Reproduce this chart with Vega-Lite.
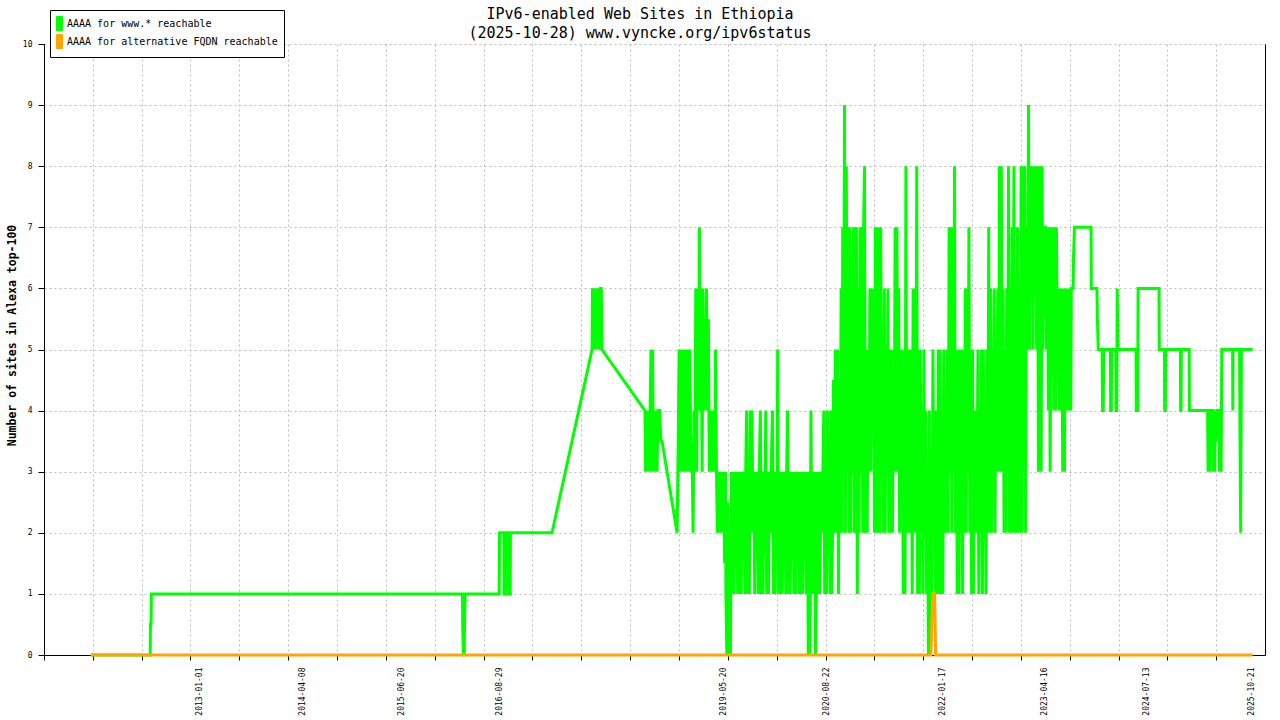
{
  "$schema": "https://vega.github.io/schema/vega-lite/v6.json",
  "width": 1221,
  "height": 611,
  "autosize": {"type": "none"},
  "padding": {"left": 44, "top": 44, "right": 15, "bottom": 65},
  "background": "white",
  "title": {
    "text": ["IPv6-enabled Web Sites in Ethiopia", "(2025-10-28) www.vyncke.org/ipv6status"],
    "font": "DejaVu Sans Mono", "fontSize": 15, "fontWeight": "normal", "lineHeight": 19,
    "color": "black", "anchor": "middle", "frame": "group", "dx": -14.5, "offset": -31
  },
  "datasets": {
    "www": [
      {"d":"2011-09-08","v":0},{"d":"2012-05-29","v":0},{"d":"2012-05-30","v":0.5},{"d":"2012-06-02","v":0.5},{"d":"2012-06-03","v":1},
      {"d":"2016-03-17","v":1},{"d":"2016-03-18","v":0.5},{"d":"2016-03-21","v":0},{"d":"2016-03-25","v":0},{"d":"2016-03-26","v":0.5},{"d":"2016-03-29","v":1},
      {"d":"2016-08-27","v":1},{"d":"2016-08-29","v":2},{"d":"2016-09-17","v":2},{"d":"2016-09-18","v":1},{"d":"2016-09-25","v":1},{"d":"2016-09-26","v":2},
      {"d":"2016-10-08","v":2},{"d":"2016-10-09","v":1},{"d":"2016-10-15","v":1},{"d":"2016-10-16","v":2},{"d":"2017-04-19","v":2},
      {"d":"2017-10-14","v":5},{"d":"2017-10-16","v":6},{"d":"2017-10-19","v":5.5},{"d":"2017-10-22","v":6},{"d":"2017-10-25","v":5},{"d":"2017-10-28","v":6},
      {"d":"2017-11-01","v":5},{"d":"2017-11-04","v":6},{"d":"2017-11-08","v":5.5},{"d":"2017-11-12","v":6},{"d":"2017-11-16","v":5},{"d":"2017-11-20","v":6},
      {"d":"2017-11-24","v":6},{"d":"2017-11-27","v":5},
      {"d":"2018-06-06","v":4},{"d":"2018-06-09","v":3},{"d":"2018-06-13","v":4},{"d":"2018-06-17","v":3},{"d":"2018-06-21","v":4},{"d":"2018-06-25","v":3},
      {"d":"2018-06-29","v":4},{"d":"2018-07-03","v":5},{"d":"2018-07-06","v":3},{"d":"2018-07-10","v":5},{"d":"2018-07-14","v":3},{"d":"2018-07-18","v":4},
      {"d":"2018-07-22","v":3},{"d":"2018-07-26","v":4},{"d":"2018-07-30","v":3},{"d":"2018-08-03","v":4},{"d":"2018-08-10","v":4},{"d":"2018-08-16","v":3.5},
      {"d":"2018-08-21","v":3.5},{"d":"2018-10-27","v":2},
      {"d":"2018-11-01","v":3.5},{"d":"2018-11-05","v":5},{"d":"2018-11-09","v":3},{"d":"2018-11-13","v":5},{"d":"2018-11-17","v":3},{"d":"2018-11-21","v":5},
      {"d":"2018-11-25","v":4},{"d":"2018-11-29","v":3},{"d":"2018-12-03","v":5},{"d":"2018-12-07","v":3},{"d":"2018-12-11","v":5},{"d":"2018-12-15","v":3},
      {"d":"2018-12-19","v":4},{"d":"2018-12-23","v":5},{"d":"2018-12-27","v":3},{"d":"2019-01-01","v":3.5},{"d":"2019-01-06","v":2},{"d":"2019-01-10","v":4},
      {"d":"2019-01-14","v":3},{"d":"2019-01-18","v":6},{"d":"2019-01-22","v":3},{"d":"2019-01-26","v":6},{"d":"2019-01-30","v":4},{"d":"2019-02-03","v":7},
      {"d":"2019-02-07","v":4},{"d":"2019-02-11","v":6},{"d":"2019-02-15","v":3},{"d":"2019-02-19","v":6},{"d":"2019-02-23","v":4},{"d":"2019-02-27","v":5.5},
      {"d":"2019-03-03","v":4},{"d":"2019-03-07","v":6},{"d":"2019-03-11","v":4},{"d":"2019-03-15","v":5.5},{"d":"2019-03-19","v":3},{"d":"2019-03-23","v":4},
      {"d":"2019-03-27","v":3},{"d":"2019-03-31","v":4},{"d":"2019-04-04","v":3},{"d":"2019-04-08","v":4},{"d":"2019-04-12","v":3},{"d":"2019-04-16","v":5},
      {"d":"2019-04-20","v":3},{"d":"2019-04-24","v":2},{"d":"2019-04-28","v":3},{"d":"2019-05-02","v":2},{"d":"2019-05-06","v":3},{"d":"2019-05-10","v":2},
      {"d":"2019-05-14","v":3},{"d":"2019-05-18","v":2},{"d":"2019-05-22","v":3},{"d":"2019-05-26","v":1.5},{"d":"2019-05-30","v":3},{"d":"2019-06-01","v":1},
      {"d":"2019-06-05","v":0},{"d":"2019-06-09","v":2.5},{"d":"2019-06-13","v":0},{"d":"2019-06-17","v":1.5},{"d":"2019-06-21","v":0},{"d":"2019-06-25","v":3},
      {"d":"2019-06-29","v":1},{"d":"2019-07-03","v":3},{"d":"2019-07-07","v":1},{"d":"2019-07-11","v":3},{"d":"2019-07-15","v":2},{"d":"2019-07-19","v":3},
      {"d":"2019-07-23","v":1},{"d":"2019-07-27","v":3},{"d":"2019-07-31","v":1},{"d":"2019-08-04","v":3},{"d":"2019-08-08","v":1},{"d":"2019-08-12","v":3},
      {"d":"2019-08-16","v":2},{"d":"2019-08-20","v":3},{"d":"2019-08-24","v":1},{"d":"2019-08-28","v":3},{"d":"2019-09-01","v":4},{"d":"2019-09-05","v":1},
      {"d":"2019-09-09","v":3},{"d":"2019-09-13","v":1},{"d":"2019-09-17","v":4},{"d":"2019-09-21","v":2},{"d":"2019-09-25","v":4},{"d":"2019-09-29","v":2},
      {"d":"2019-10-03","v":3},{"d":"2019-10-07","v":1},{"d":"2019-10-11","v":3},{"d":"2019-10-15","v":2},{"d":"2019-10-19","v":3},{"d":"2019-10-23","v":1},
      {"d":"2019-10-27","v":3},{"d":"2019-11-01","v":4},{"d":"2019-11-05","v":1},{"d":"2019-11-09","v":3},{"d":"2019-11-13","v":1},{"d":"2019-11-17","v":3},
      {"d":"2019-11-21","v":2},{"d":"2019-11-25","v":4},{"d":"2019-11-29","v":1},{"d":"2019-12-03","v":3},{"d":"2019-12-07","v":1},{"d":"2019-12-11","v":3},
      {"d":"2019-12-15","v":2},{"d":"2019-12-19","v":3},{"d":"2019-12-25","v":4},{"d":"2019-12-29","v":1},{"d":"2020-01-02","v":3},{"d":"2020-01-06","v":1},
      {"d":"2020-01-10","v":3},{"d":"2020-01-14","v":2},{"d":"2020-01-17","v":5},{"d":"2020-01-21","v":1},{"d":"2020-01-25","v":3},{"d":"2020-01-29","v":1},
      {"d":"2020-02-02","v":3},{"d":"2020-02-06","v":1},{"d":"2020-02-10","v":3},{"d":"2020-02-14","v":2},{"d":"2020-02-18","v":3},{"d":"2020-02-22","v":1},
      {"d":"2020-02-26","v":3},{"d":"2020-03-01","v":4},{"d":"2020-03-05","v":1},{"d":"2020-03-09","v":3},{"d":"2020-03-13","v":1},{"d":"2020-03-17","v":3},
      {"d":"2020-03-21","v":2},{"d":"2020-03-25","v":3},{"d":"2020-03-29","v":1},{"d":"2020-04-02","v":3},{"d":"2020-04-06","v":1},{"d":"2020-04-10","v":3},
      {"d":"2020-04-14","v":2},{"d":"2020-04-18","v":3},{"d":"2020-04-22","v":1},{"d":"2020-04-26","v":3},{"d":"2020-04-30","v":1},{"d":"2020-05-04","v":3},
      {"d":"2020-05-08","v":1},{"d":"2020-05-12","v":3},{"d":"2020-05-16","v":2},{"d":"2020-05-20","v":3},{"d":"2020-05-24","v":1},{"d":"2020-05-28","v":3},
      {"d":"2020-06-01","v":0},{"d":"2020-06-05","v":3},{"d":"2020-06-09","v":0},{"d":"2020-06-13","v":4},{"d":"2020-06-17","v":1},{"d":"2020-06-21","v":3},
      {"d":"2020-06-25","v":1},{"d":"2020-06-29","v":3},{"d":"2020-07-03","v":0},{"d":"2020-07-07","v":1},{"d":"2020-07-11","v":3},{"d":"2020-07-15","v":1},
      {"d":"2020-07-19","v":3},{"d":"2020-07-23","v":1},{"d":"2020-07-27","v":3},{"d":"2020-08-01","v":2},{"d":"2020-08-05","v":3},{"d":"2020-08-09","v":4},
      {"d":"2020-08-13","v":1},{"d":"2020-08-17","v":3},{"d":"2020-08-21","v":1},{"d":"2020-08-25","v":4},{"d":"2020-08-29","v":2},{"d":"2020-09-02","v":3},
      {"d":"2020-09-06","v":1},{"d":"2020-09-09","v":4},{"d":"2020-09-13","v":1},{"d":"2020-09-17","v":2},{"d":"2020-09-21","v":4.5},{"d":"2020-09-25","v":2},
      {"d":"2020-09-29","v":5},{"d":"2020-10-05","v":2},{"d":"2020-10-09","v":5},{"d":"2020-10-13","v":1},{"d":"2020-10-17","v":4},{"d":"2020-10-21","v":2},
      {"d":"2020-10-25","v":6},{"d":"2020-10-29","v":2},{"d":"2020-11-01","v":7},{"d":"2020-11-05","v":3},{"d":"2020-11-09","v":9},{"d":"2020-11-13","v":2},
      {"d":"2020-11-17","v":8},{"d":"2020-11-21","v":3},{"d":"2020-11-25","v":7},{"d":"2020-11-29","v":2},{"d":"2020-12-03","v":7},{"d":"2020-12-07","v":2},
      {"d":"2020-12-11","v":6},{"d":"2020-12-15","v":3},{"d":"2020-12-19","v":7},{"d":"2020-12-23","v":2},{"d":"2020-12-27","v":6},{"d":"2021-01-01","v":7},
      {"d":"2021-01-05","v":1},{"d":"2021-01-09","v":6},{"d":"2021-01-13","v":2},{"d":"2021-01-17","v":7},{"d":"2021-01-21","v":3},{"d":"2021-01-25","v":7},
      {"d":"2021-01-29","v":2},{"d":"2021-02-02","v":7},{"d":"2021-02-06","v":8},{"d":"2021-02-10","v":2},{"d":"2021-02-14","v":5},{"d":"2021-02-18","v":2},
      {"d":"2021-02-22","v":5},{"d":"2021-02-26","v":3},{"d":"2021-03-02","v":6},{"d":"2021-03-06","v":3},{"d":"2021-03-10","v":6},{"d":"2021-03-14","v":4},
      {"d":"2021-03-18","v":6},{"d":"2021-03-22","v":2},{"d":"2021-03-26","v":7},{"d":"2021-03-30","v":2},{"d":"2021-04-03","v":7},{"d":"2021-04-07","v":2},
      {"d":"2021-04-11","v":7},{"d":"2021-04-15","v":2},{"d":"2021-04-19","v":7},{"d":"2021-04-23","v":3},{"d":"2021-04-27","v":5},{"d":"2021-05-01","v":2},
      {"d":"2021-05-05","v":6},{"d":"2021-05-09","v":2},{"d":"2021-05-13","v":5},{"d":"2021-05-17","v":3},{"d":"2021-05-21","v":6},{"d":"2021-05-25","v":2},
      {"d":"2021-05-29","v":5},{"d":"2021-06-02","v":2},{"d":"2021-06-06","v":5},{"d":"2021-06-10","v":2},{"d":"2021-06-14","v":4},{"d":"2021-06-18","v":3},
      {"d":"2021-06-22","v":7},{"d":"2021-06-26","v":3},{"d":"2021-06-30","v":7},{"d":"2021-07-04","v":3},{"d":"2021-07-08","v":6},{"d":"2021-07-12","v":2},
      {"d":"2021-07-16","v":5},{"d":"2021-07-20","v":3},{"d":"2021-07-24","v":5},{"d":"2021-07-28","v":1},{"d":"2021-08-01","v":4},{"d":"2021-08-05","v":1},
      {"d":"2021-08-09","v":8},{"d":"2021-08-13","v":2},{"d":"2021-08-17","v":5},{"d":"2021-08-21","v":2},{"d":"2021-08-25","v":5},{"d":"2021-08-29","v":2},
      {"d":"2021-09-02","v":5},{"d":"2021-09-06","v":1},{"d":"2021-09-10","v":6},{"d":"2021-09-14","v":2},{"d":"2021-09-18","v":6},{"d":"2021-09-22","v":2},
      {"d":"2021-09-26","v":8},{"d":"2021-09-30","v":1},{"d":"2021-10-04","v":5},{"d":"2021-10-08","v":1},{"d":"2021-10-12","v":5},{"d":"2021-10-16","v":2},
      {"d":"2021-10-20","v":4},{"d":"2021-10-24","v":1},{"d":"2021-10-28","v":5},{"d":"2021-11-01","v":2},{"d":"2021-11-05","v":4},{"d":"2021-11-09","v":1},
      {"d":"2021-11-13","v":3},{"d":"2021-11-17","v":0},{"d":"2021-11-21","v":4},{"d":"2021-11-25","v":0},{"d":"2021-11-29","v":3},{"d":"2021-12-03","v":1},
      {"d":"2021-12-07","v":5},{"d":"2021-12-11","v":2},{"d":"2021-12-15","v":4},{"d":"2021-12-19","v":1},{"d":"2021-12-23","v":4},{"d":"2021-12-27","v":1},
      {"d":"2021-12-31","v":5},{"d":"2022-01-04","v":1},{"d":"2022-01-08","v":5},{"d":"2022-01-12","v":1},{"d":"2022-01-16","v":4},{"d":"2022-01-20","v":1},
      {"d":"2022-01-24","v":5},{"d":"2022-01-28","v":2},{"d":"2022-02-01","v":4},{"d":"2022-02-05","v":2},{"d":"2022-02-09","v":5},{"d":"2022-02-13","v":2},
      {"d":"2022-02-17","v":7},{"d":"2022-02-21","v":3},{"d":"2022-02-25","v":7},{"d":"2022-03-01","v":2},{"d":"2022-03-05","v":7},{"d":"2022-03-09","v":3},
      {"d":"2022-03-13","v":8},{"d":"2022-03-17","v":2},{"d":"2022-03-21","v":5},{"d":"2022-03-25","v":1},{"d":"2022-03-29","v":5},{"d":"2022-04-02","v":1},
      {"d":"2022-04-06","v":5},{"d":"2022-04-10","v":2},{"d":"2022-04-14","v":5},{"d":"2022-04-18","v":1},{"d":"2022-04-22","v":5},{"d":"2022-04-26","v":2},
      {"d":"2022-04-30","v":6},{"d":"2022-05-04","v":2},{"d":"2022-05-08","v":6},{"d":"2022-05-12","v":3},{"d":"2022-05-16","v":7},{"d":"2022-05-20","v":2},
      {"d":"2022-05-24","v":5},{"d":"2022-05-28","v":1},{"d":"2022-06-01","v":5},{"d":"2022-06-05","v":1},{"d":"2022-06-09","v":4},{"d":"2022-06-13","v":2},
      {"d":"2022-06-17","v":4},{"d":"2022-06-21","v":2},{"d":"2022-06-25","v":5},{"d":"2022-06-29","v":1},{"d":"2022-07-03","v":4},{"d":"2022-07-07","v":2},
      {"d":"2022-07-11","v":5},{"d":"2022-07-15","v":1},{"d":"2022-07-19","v":5},{"d":"2022-07-23","v":2},{"d":"2022-07-27","v":4},{"d":"2022-07-31","v":1},
      {"d":"2022-08-04","v":5},{"d":"2022-08-08","v":2},{"d":"2022-08-12","v":7},{"d":"2022-08-16","v":2},{"d":"2022-08-20","v":6},{"d":"2022-08-24","v":2},
      {"d":"2022-08-28","v":5},{"d":"2022-09-01","v":3},{"d":"2022-09-05","v":6},{"d":"2022-09-09","v":2},{"d":"2022-09-13","v":5},{"d":"2022-09-17","v":3},
      {"d":"2022-09-21","v":6},{"d":"2022-09-25","v":3},{"d":"2022-09-29","v":8},{"d":"2022-10-03","v":3},{"d":"2022-10-07","v":8},{"d":"2022-10-11","v":3},
      {"d":"2022-10-15","v":6},{"d":"2022-10-19","v":2},{"d":"2022-10-23","v":5},{"d":"2022-10-27","v":2},{"d":"2022-10-31","v":6},{"d":"2022-11-04","v":3},
      {"d":"2022-11-08","v":8},{"d":"2022-11-12","v":2},{"d":"2022-11-16","v":6},{"d":"2022-11-20","v":2},{"d":"2022-11-24","v":7},{"d":"2022-11-28","v":2},
      {"d":"2022-12-02","v":8},{"d":"2022-12-06","v":2},{"d":"2022-12-10","v":6},{"d":"2022-12-14","v":2},{"d":"2022-12-18","v":7},{"d":"2022-12-22","v":2},
      {"d":"2022-12-26","v":6},{"d":"2022-12-30","v":2},{"d":"2023-01-03","v":8},{"d":"2023-01-07","v":2},{"d":"2023-01-11","v":8},{"d":"2023-01-15","v":3},
      {"d":"2023-01-19","v":8},{"d":"2023-01-23","v":2},{"d":"2023-01-27","v":7},{"d":"2023-02-01","v":5},{"d":"2023-02-05","v":9},{"d":"2023-02-09","v":5},
      {"d":"2023-02-13","v":8},{"d":"2023-02-17","v":6},{"d":"2023-02-21","v":8},{"d":"2023-02-25","v":5},{"d":"2023-03-01","v":8},{"d":"2023-03-05","v":7},
      {"d":"2023-03-09","v":8},{"d":"2023-03-13","v":5},{"d":"2023-03-17","v":8},{"d":"2023-03-21","v":3},{"d":"2023-03-25","v":8},{"d":"2023-03-29","v":7},
      {"d":"2023-04-02","v":3},{"d":"2023-04-06","v":8},{"d":"2023-04-10","v":5},{"d":"2023-04-14","v":7},{"d":"2023-04-18","v":7},{"d":"2023-04-22","v":7},
      {"d":"2023-04-26","v":5},{"d":"2023-04-30","v":7},{"d":"2023-05-04","v":4},{"d":"2023-05-08","v":7},{"d":"2023-05-12","v":3},{"d":"2023-05-16","v":7},
      {"d":"2023-05-20","v":5},{"d":"2023-05-24","v":7},{"d":"2023-05-28","v":4},{"d":"2023-06-01","v":7},{"d":"2023-06-05","v":4},{"d":"2023-06-09","v":7},
      {"d":"2023-06-13","v":5},{"d":"2023-06-17","v":6},{"d":"2023-06-21","v":4},{"d":"2023-06-25","v":6},{"d":"2023-06-29","v":4},{"d":"2023-07-03","v":6},
      {"d":"2023-07-07","v":3},{"d":"2023-07-11","v":6},{"d":"2023-07-15","v":3},{"d":"2023-07-19","v":6},{"d":"2023-07-23","v":4},{"d":"2023-07-27","v":6},
      {"d":"2023-07-31","v":4},{"d":"2023-08-05","v":6},{"d":"2023-08-12","v":4},{"d":"2023-08-14","v":6},{"d":"2023-08-22","v":6},{"d":"2023-08-24","v":6.5},
      {"d":"2023-08-28","v":7},{"d":"2023-11-10","v":7},{"d":"2023-11-11","v":6},{"d":"2023-12-06","v":6},{"d":"2023-12-08","v":5.5},{"d":"2023-12-12","v":5},
      {"d":"2023-12-29","v":5},{"d":"2023-12-31","v":4},{"d":"2024-01-03","v":4},{"d":"2024-01-05","v":5},
      {"d":"2024-02-04","v":5},{"d":"2024-02-05","v":4},{"d":"2024-02-08","v":4},{"d":"2024-02-09","v":5},{"d":"2024-02-28","v":5},{"d":"2024-02-29","v":4},
      {"d":"2024-03-03","v":4},{"d":"2024-03-05","v":6},{"d":"2024-03-08","v":5},
      {"d":"2024-05-28","v":5},{"d":"2024-05-29","v":4},{"d":"2024-06-04","v":4},{"d":"2024-06-06","v":6},{"d":"2024-09-07","v":6},{"d":"2024-09-08","v":5},
      {"d":"2024-10-01","v":5},{"d":"2024-10-02","v":4},{"d":"2024-10-05","v":4},{"d":"2024-10-06","v":5},
      {"d":"2024-12-11","v":5},{"d":"2024-12-12","v":4},{"d":"2024-12-14","v":4},{"d":"2024-12-15","v":5},{"d":"2025-01-19","v":5},{"d":"2025-01-20","v":4},
      {"d":"2025-04-11","v":4},{"d":"2025-04-13","v":3},{"d":"2025-04-17","v":4},{"d":"2025-04-20","v":3},{"d":"2025-04-24","v":4},{"d":"2025-05-05","v":4},
      {"d":"2025-05-06","v":3},{"d":"2025-05-09","v":4},{"d":"2025-05-12","v":3},{"d":"2025-05-15","v":4},{"d":"2025-05-18","v":3.5},{"d":"2025-05-22","v":4},
      {"d":"2025-06-01","v":4},{"d":"2025-06-02","v":3},{"d":"2025-06-06","v":3.5},{"d":"2025-06-10","v":3},{"d":"2025-06-13","v":5},
      {"d":"2025-07-31","v":5},{"d":"2025-08-01","v":4},{"d":"2025-08-02","v":5},{"d":"2025-08-31","v":5},{"d":"2025-09-02","v":3.5},{"d":"2025-09-05","v":2},
      {"d":"2025-09-08","v":5},{"d":"2025-10-28","v":5}
    ],
    "alt": [
      {"d":"2011-09-08","v":0},{"d":"2021-11-28","v":0},{"d":"2021-12-02","v":0.5},{"d":"2021-12-06","v":1},
      {"d":"2021-12-15","v":1},{"d":"2021-12-19","v":0},{"d":"2025-10-28","v":0}
    ]
  },
  "layer": [
    {
      "data": {"name": "www"},
      "mark": {"type": "line", "strokeWidth": 3, "interpolate": "linear"},
      "encoding": {
        "x": {
          "field": "d", "type": "temporal",
          "scale": {"domain": [{"year": 2011, "month": 2, "date": 12}, {"year": 2025, "month": 12, "date": 22}], "nice": false},
          "axis": {
            "orient": "bottom",
            "title": null,
            "values": [
              {"year": 2011, "month": 2, "date": 12, "hours": 12}, {"year": 2011, "month": 9, "date": 17},
              {"year": 2012, "month": 4, "date": 21}, {"year": 2012, "month": 11, "date": 24},
              {"year": 2013, "month": 6, "date": 29}, {"year": 2014, "month": 2, "date": 2},
              {"year": 2014, "month": 9, "date": 7}, {"year": 2015, "month": 4, "date": 12},
              {"year": 2015, "month": 11, "date": 15}, {"year": 2016, "month": 6, "date": 19},
              {"year": 2017, "month": 1, "date": 22}, {"year": 2017, "month": 8, "date": 27},
              {"year": 2018, "month": 4, "date": 1}, {"year": 2018, "month": 11, "date": 4},
              {"year": 2019, "month": 6, "date": 9}, {"year": 2020, "month": 1, "date": 13},
              {"year": 2020, "month": 8, "date": 17}, {"year": 2021, "month": 3, "date": 22},
              {"year": 2021, "month": 10, "date": 25}, {"year": 2022, "month": 5, "date": 30},
              {"year": 2023, "month": 1, "date": 2}, {"year": 2023, "month": 8, "date": 7},
              {"year": 2024, "month": 3, "date": 11}, {"year": 2024, "month": 10, "date": 14},
              {"year": 2025, "month": 5, "date": 19}
            ],
            "labels": false,
            "domainColor": "black", "domainWidth": 1,
            "tickColor": "black", "tickSize": 5, "tickWidth": 1,
            "grid": true, "gridColor": "#bbbbbb", "gridDash": [2, 3], "gridWidth": 1
          }
        },
        "y": {
          "field": "v", "type": "quantitative",
          "scale": {"domain": [0, 10], "nice": false},
          "axis": {
            "orient": "left",
            "values": [0, 1, 2, 3, 4, 5, 6, 7, 8, 9, 10],
            "format": "d",
            "title": "Number of sites in Alexa top-100",
            "titleFont": "DejaVu Sans Mono", "titleFontSize": 11.5, "titleFontWeight": "bold", "titleColor": "black",
            "titleAngle": 270, "titleX": -32, "titleY": 291, "titleAlign": "center", "titleBaseline": "middle",
            "labelFont": "DejaVu Sans Mono", "labelFontSize": 8, "labelColor": "black", "labelPadding": 6,
            "domainColor": "black", "domainWidth": 1,
            "tickColor": "black", "tickSize": 6, "tickWidth": 1,
            "grid": true, "gridColor": "#bbbbbb", "gridDash": [2, 3], "gridWidth": 1
          }
        },
        "color": {
          "datum": "AAAA for www.* reachable",
          "type": "nominal",
          "scale": {
            "domain": ["AAAA for www.* reachable", "AAAA for alternative FQDN reachable"],
            "range": ["#00ff00", "#ffa500"]
          },
          "legend": {
            "title": null,
            "orient": "none", "legendX": 6, "legendY": -34,
            "padding": 6, "strokeColor": "black", "fillColor": "white", "cornerRadius": 0,
            "symbolType": "M-1.0,-1H-0.143V1H-1.0Z", "symbolSize": 196,
            "labelFont": "DejaVu Sans Mono", "labelFontSize": 10, "labelColor": "black",
            "labelOffset": -4, "rowPadding": -1, "labelLimit": 400,
            "encode": {
              "symbols": {
                "update": {
                  "fill": {"scale": "color", "field": "value"},
                  "stroke": {"value": "black"},
                  "strokeWidth": {"value": 1},
                  "fillOpacity": {"value": 1},
                  "opacity": {"value": 1}
                }
              }
            }
          }
        }
      }
    },
    {
      "data": {"name": "alt"},
      "mark": {"type": "line", "strokeWidth": 3, "interpolate": "linear"},
      "encoding": {
        "x": {
          "field": "d", "type": "temporal",
          "axis": {
            "orient": "bottom",
            "title": null,
            "values": [
              {"year": 2013, "month": 1, "date": 1}, {"year": 2014, "month": 4, "date": 8},
              {"year": 2015, "month": 6, "date": 20}, {"year": 2016, "month": 8, "date": 29},
              {"year": 2019, "month": 5, "date": 20}, {"year": 2020, "month": 8, "date": 22},
              {"year": 2022, "month": 1, "date": 17}, {"year": 2023, "month": 4, "date": 16},
              {"year": 2024, "month": 7, "date": 13}, {"year": 2025, "month": 10, "date": 21}
            ],
            "format": "%Y-%m-%d",
            "labelAngle": 270, "labelAlign": "right", "labelBaseline": "middle",
            "labelFont": "DejaVu Sans Mono", "labelFontSize": 8, "labelColor": "black",
            "labelPadding": 12, "labelOverlap": false, "labelBound": false, "labelFlush": false,
            "ticks": false, "tickSize": 0, "domain": false, "grid": false
          }
        },
        "y": {
          "field": "v", "type": "quantitative",
          "axis": {"orient": "right", "title": null, "labels": false, "ticks": false, "grid": false, "domainColor": "black", "domainWidth": 1}
        },
        "color": {"datum": "AAAA for alternative FQDN reachable", "type": "nominal"}
      }
    }
  ],
  "resolve": {"axis": {"x": "independent", "y": "independent"}},
  "config": {"view": {"stroke": null}}
}
